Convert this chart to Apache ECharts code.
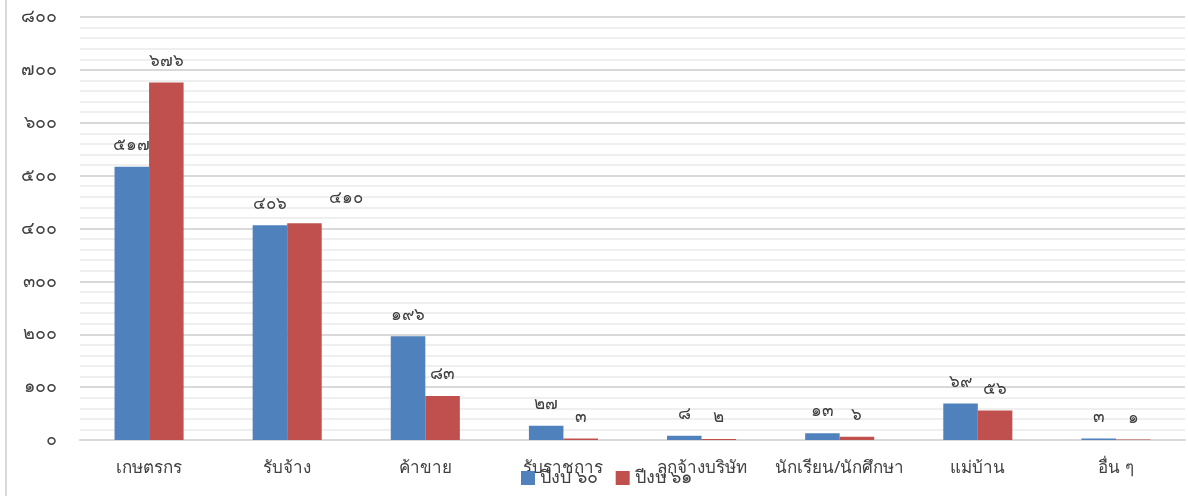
<!DOCTYPE html>
<html><head><meta charset="utf-8">
<script src="https://cdn.jsdelivr.net/npm/echarts@6/dist/echarts.min.js"></script>
<style>html,body{margin:0;padding:0;background:#fff}#c{width:1188px;height:496px}</style>
</head><body><div id="c"></div>
<script>
const categories = ['เกษตรกร','รับจ้าง','ค้าขาย','รับราชการ','ลูกจ้างบริษัท','นักเรียน/นักศึกษา','แม่บ้าน','อื่น ๆ'];
const seriesNames = ['ปีงบ ๖๐','ปีงบ ๖๑'];
const values60 = [517, 406, 196, 27, 8, 13, 69, 3];
const values61 = [676, 410, 83, 3, 2, 6, 56, 1];
const thaiDigits = ['๐','๑','๒','๓','๔','๕','๖','๗','๘','๙'];
const toThai = v => String(v).replace(/[0-9]/g, d => thaiDigits[+d]);
const font = "Tahoma, 'Noto Sans', sans-serif";
const lbl = {show:true, position:'top', distance:13, fontSize:17, color:'#404040', fontFamily:font, formatter:p=>toThai(p.value)};
const chart = echarts.init(document.getElementById('c'));
chart.setOption({
  animation:false,
  grid:{left:80, right:3, top:17, bottom:56},
  graphic:[{type:'line', shape:{x1:6,y1:0,x2:6,y2:496}, style:{stroke:'#d9d9d9', lineWidth:2}}],
  legend:{data:seriesNames, bottom:4, left:516, itemWidth:14, itemHeight:14, itemGap:18,
    textStyle:{fontSize:18, color:'#404040', fontFamily:font}, icon:'rect'},
  xAxis:{type:'category', data:categories, axisTick:{show:false},
    axisLine:{lineStyle:{color:'#d9d9d9', width:2}},
    axisLabel:{fontSize:17, color:'#404040', margin:20, fontFamily:font, interval:0}},
  yAxis:{type:'value', min:0, max:800, interval:100,
    axisLine:{show:false}, axisTick:{show:false},
    axisLabel:{fontSize:18, color:'#404040', margin:23, fontFamily:font, formatter:v=>toThai(v)},
    splitLine:{lineStyle:{color:'#d9d9d9', width:2}},
    minorTick:{show:false, splitNumber:5},
    minorSplitLine:{show:true, lineStyle:{color:'#efefef', width:2}}},
  series:[
    {name:seriesNames[0], type:'bar', data:values60, barGap:'0%', barCategoryGap:'50%',
      itemStyle:{color:'#4f81bd'}, label:lbl},
    {name:seriesNames[1], type:'bar', data:values61.map((v,i)=> i===1 ? {value:v, label:{offset:[42,-4]}} : v),
      itemStyle:{color:'#c0504d'}, label:lbl}
  ]
});
</script></body></html>
